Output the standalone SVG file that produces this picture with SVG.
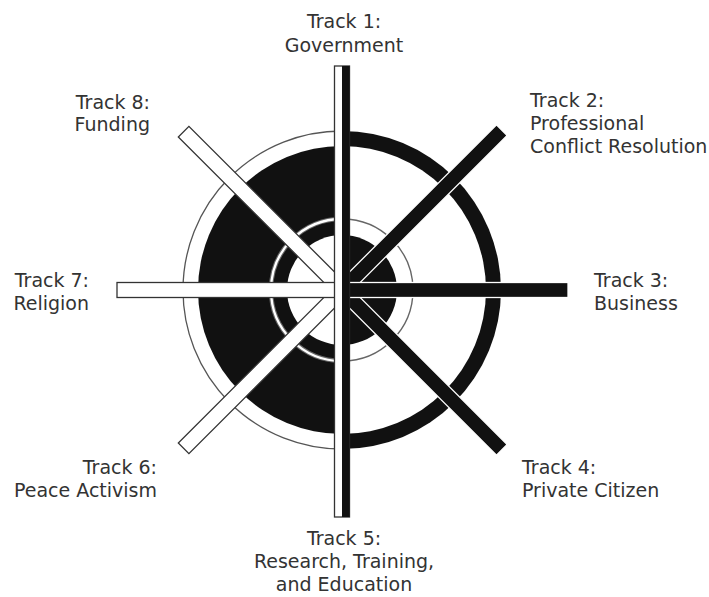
<svg xmlns="http://www.w3.org/2000/svg" width="709" height="597" viewBox="0 0 709 597">
  <defs>
    <clipPath id="leftHalf"><rect x="0" y="0" width="342" height="597"/></clipPath>
    <clipPath id="rightHalf"><rect x="342" y="0" width="367" height="597"/></clipPath>
  </defs>
  <style>
    .lbl { font-family: "DejaVu Sans", Verdana, sans-serif; font-size: 19px; fill: #333; }
    .wbar { fill: #fff; stroke: #333; stroke-width: 1.3; }
    .bbar { fill: #111; stroke: #fff; stroke-width: 1.3; }
  </style>
  <rect width="709" height="597" fill="#fff"/>

  <!-- Rings -->
  <g id="rings">
    <g clip-path="url(#leftHalf)">
      <circle cx="342" cy="290" r="159" fill="#fff" stroke="#555" stroke-width="1.3"/>
      <circle cx="342" cy="290" r="144" fill="#111"/>
      <circle cx="342" cy="290" r="55" fill="#fff"/>
      <circle cx="342" cy="290" r="71" fill="none" stroke="#666" stroke-width="4.5"/>
      <circle cx="342" cy="290" r="71" fill="none" stroke="#fff" stroke-width="2.3"/>
    </g>
    <g clip-path="url(#rightHalf)">
      <circle cx="342" cy="290" r="159" fill="#111"/>
      <circle cx="342" cy="290" r="144" fill="#fff"/>
      <circle cx="342" cy="290" r="71" fill="none" stroke="#666" stroke-width="1.4"/>
      <circle cx="342" cy="290" r="55" fill="#111"/>
    </g>
  </g>

  <!-- Track bars (connectors) -->
  <g id="connectors">
    <g id="bar-track8"><rect class="wbar" x="0" y="-7.5" width="224" height="15" transform="translate(342 290) rotate(-135)"/></g>
    <g id="bar-track6"><rect class="wbar" x="0" y="-7.5" width="224" height="15" transform="translate(342 290) rotate(135)"/></g>
    <g id="bar-track2"><rect class="bbar" x="0" y="-7.5" width="226" height="15" transform="translate(342 290) rotate(-45)"/></g>
    <g id="bar-track4"><rect class="bbar" x="0" y="-7.5" width="226" height="15" transform="translate(342 290) rotate(45)"/></g>
    <g id="bar-track7"><rect class="wbar" x="0" y="-7.5" width="225" height="15" transform="translate(342 290) rotate(180)"/></g>
    <g id="bar-track3"><rect class="bbar" x="0" y="-7.5" width="226" height="15" transform="translate(342 290)"/></g>
    <g id="bar-track1-5">
      <rect x="334.5" y="66" width="15" height="451" fill="#fff" stroke="#333" stroke-width="1.3"/>
      <rect x="342" y="66" width="7.5" height="451" fill="#111"/>
    </g>
  </g>

  <!-- Labels -->
  <g id="track1"><text class="lbl" x="344" y="28" text-anchor="middle">Track 1:</text><text class="lbl" x="344" y="52" text-anchor="middle">Government</text></g>
  <g id="track2"><text class="lbl" x="530" y="107">Track 2:</text><text class="lbl" x="530" y="130">Professional</text><text class="lbl" x="530" y="153">Conflict Resolution</text></g>
  <g id="track3"><text class="lbl" x="594" y="287">Track 3:</text><text class="lbl" x="594" y="310">Business</text></g>
  <g id="track4"><text class="lbl" x="522" y="474">Track 4:</text><text class="lbl" x="522" y="497">Private Citizen</text></g>
  <g id="track5"><text class="lbl" x="344" y="545" text-anchor="middle">Track 5:</text><text class="lbl" x="344" y="568" text-anchor="middle">Research, Training,</text><text class="lbl" x="344" y="591" text-anchor="middle">and Education</text></g>
  <g id="track6"><text class="lbl" x="157" y="474" text-anchor="end">Track 6:</text><text class="lbl" x="157" y="497" text-anchor="end">Peace Activism</text></g>
  <g id="track7"><text class="lbl" x="89" y="287" text-anchor="end">Track 7:</text><text class="lbl" x="89" y="310" text-anchor="end">Religion</text></g>
  <g id="track8"><text class="lbl" x="150" y="109" text-anchor="end">Track 8:</text><text class="lbl" x="150" y="131" text-anchor="end">Funding</text></g>
</svg>
